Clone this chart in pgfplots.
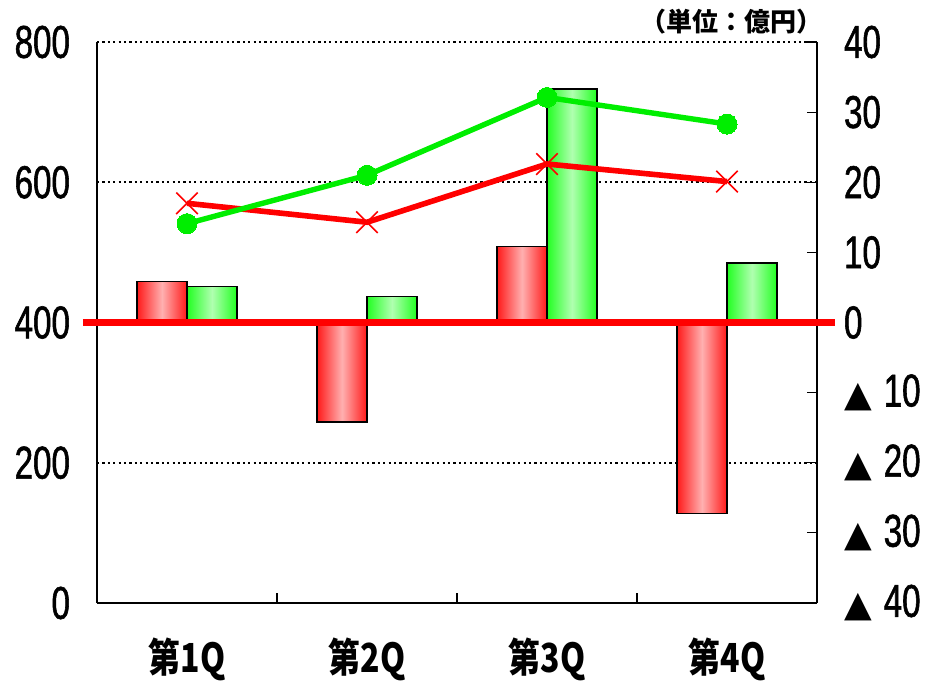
\documentclass[border=0pt]{standalone}
\usepackage{pgfplots}
\pgfplotsset{compat=1.18}
\usepackage{fontspec}
\setmainfont[FakeStretch=0.72, FakeBold=1.2]{Liberation Sans}
\newfontfamily\cjk[FakeStretch=0.8]{Noto Sans CJK JP}
\newfontfamily\cjkunit{Noto Sans CJK JP}
\newfontfamily\dejavu{DejaVu Sans}
\definecolor{barred}{HTML}{FF1A1A}
\definecolor{barredmid}{HTML}{FFB0B0}
\definecolor{bargreen}{HTML}{22FF22}
\definecolor{bargreenmid}{HTML}{B0FFB0}
\definecolor{lgreen}{HTML}{00EE00}
\newcommand{\tri}{{\dejavu\fontsize{18}{18}\selectfont ▲}\hspace{6pt}}
\begin{document}
\begin{tikzpicture}
\path[use as bounding box] (-48.5pt,-39pt) rectangle (416.5pt,301.5pt);
\pgfplotsset{base/.style={at={(0,0)}, anchor=south west, scale only axis, width=360pt, height=280.5pt, xmin=-0.5, xmax=3.5},
  redbar/.style={draw=black, line width=0.6pt, left color=barred, right color=barred, middle color=barredmid, bar shift=-12.5pt},
  greenbar/.style={draw=black, line width=0.6pt, left color=bargreen, right color=bargreen, middle color=bargreenmid, bar shift=12.5pt}}
% axis 1: left axis, grid, categories
\begin{axis}[base, ymin=0, ymax=800,
  axis x line=bottom, axis y line=left, axis line style={-, line width=0.8pt},
  ytick={0,200,...,800}, yticklabels={0,200,400,600,800},
  ymajorgrids, grid style={black, line width=1.1pt, dash pattern=on 1.1pt off 1.6pt},
  ytick style={draw=none},
  yticklabel style={font=\fontsize{23}{23}\selectfont, xshift=-10pt},
  xtick={0,1,2,3}, xticklabels={第1Q,第2Q,第3Q,第4Q},
  minor xtick={0.5,1.5,2.5}, tick align=inside,
  major x tick style={draw=none}, minor tick length=5pt, minor x tick style={line width=0.6pt, black},
  xticklabel style={font=\cjk\bfseries\fontsize{20}{20}\selectfont, yshift=-14pt}]
\end{axis}
% axis 2: right axis, bars
\begin{axis}[base, ymin=-40, ymax=40,
  axis x line=none, axis y line=right, axis line style={-, line width=0.8pt},
  ytick={-40,-30,...,40},
  yticklabels={\tri 40,\tri 30,\tri 20,\tri 10,0,10,20,30,40},
  tick align=inside, major tick length=5pt, ytick style={line width=0.6pt, black},
  yticklabel style={font=\fontsize{23}{23}\selectfont, anchor=west, xshift=10pt},
  ybar, bar width=25pt, clip=false]
\addplot[redbar] coordinates {(0,5.8)};
\addplot[redbar] coordinates {(1,-14.2)};
\addplot[redbar] coordinates {(2,10.8)};
\addplot[redbar] coordinates {(3,-27.2)};
\addplot[greenbar] coordinates {(0,5.1)};
\addplot[greenbar] coordinates {(1,3.7)};
\addplot[greenbar] coordinates {(2,33.3)};
\addplot[greenbar] coordinates {(3,8.5)};
\draw[red, line width=3.5pt] (axis cs:-0.578,0) -- (axis cs:3.6,0);
\end{axis}
% axis 3: lines on left scale
\begin{axis}[base, ymin=0, ymax=800, hide axis, clip=false]
\addplot[red, line width=2.8pt, mark=x, mark size=7.6pt, mark options={line width=0.8pt}]
  coordinates {(0,570) (1,543) (2,626) (3,601)};
\addplot[lgreen, line width=2.7pt, mark=*, mark size=5pt, mark options={fill=lgreen, draw=lgreen, line width=0pt}]
  coordinates {(0,541) (1,610) (2,721) (3,683)};
\end{axis}
\node[anchor=east, inner sep=0pt, font=\cjkunit\bfseries\fontsize{13}{13}\selectfont] at (363pt,290.5pt) {（単位：億円）};
\end{tikzpicture}
\end{document}
